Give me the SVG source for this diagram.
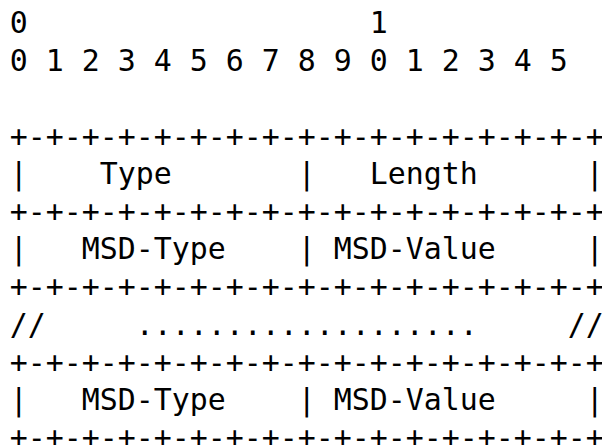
<svg xmlns="http://www.w3.org/2000/svg" width="602" height="445" viewBox="0 0 602 445">
<style>
text { font-family: "DejaVu Sans Mono", "Liberation Mono", monospace; font-size: 29.9px; fill: #000; white-space: pre; }
</style>
<rect width="602" height="445" fill="#fff"/>
<g id="ruler">
<text x="9.8" y="33" xml:space="preserve">0                   1</text>
<text x="9.8" y="70.6" xml:space="preserve">0 1 2 3 4 5 6 7 8 9 0 1 2 3 4 5</text>
</g>
<g id="borders">
<text x="9.8" y="147" xml:space="preserve">+-+-+-+-+-+-+-+-+-+-+-+-+-+-+-+-+</text>
<text x="9.8" y="222.2" xml:space="preserve">+-+-+-+-+-+-+-+-+-+-+-+-+-+-+-+-+</text>
<text x="9.8" y="297.4" xml:space="preserve">+-+-+-+-+-+-+-+-+-+-+-+-+-+-+-+-+</text>
<text x="9.8" y="372.6" xml:space="preserve">+-+-+-+-+-+-+-+-+-+-+-+-+-+-+-+-+</text>
<text x="9.8" y="447.8" xml:space="preserve">+-+-+-+-+-+-+-+-+-+-+-+-+-+-+-+-+</text>
</g>
<g id="row-type-length">
<text x="9.8" y="183.8" xml:space="preserve">|    Type       |   Length      |</text>
</g>
<g id="row-msd-1">
<text x="9.8" y="259.4" xml:space="preserve">|   MSD-Type    | MSD-Value     |</text>
</g>
<g id="row-continuation">
<text x="9.8" y="335" xml:space="preserve">//     ...................     //</text>
</g>
<g id="row-msd-2">
<text x="9.8" y="410.2" xml:space="preserve">|   MSD-Type    | MSD-Value     |</text>
</g>
</svg>
